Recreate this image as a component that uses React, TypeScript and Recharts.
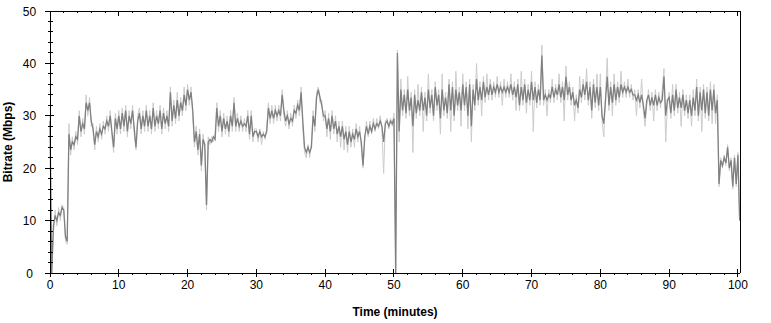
import React from 'react';
import { LineChart, Line, XAxis, YAxis } from 'recharts';

// sampled every 0.25 min; dark = main trace, light = wider envelope behind it
const STEP = 0.25;

const dark00 = [29, 0, 9, 11, 10, 11.5, 11, 12.5, 12, 7, 6, 26.5, 23.5, 25, 24.5, 26, 25.5, 30, 27, 28.5, 27.5, 32.5, 31, 32.5, 29, 27.5, 24.5, 27, 26, 27.5, 26.5, 28, 27.5, 29, 28, 30, 27, 24, 29.5, 27.5];
const dark10 = [30, 27.5, 30.5, 28, 31, 27, 30, 28.5, 31, 27.5, 24, 29, 30.5, 27.5, 30, 28, 31, 28, 30, 27.5, 31.5, 28, 30, 28.5, 31, 27.5, 30.5, 28.5, 30, 28, 34.5, 29, 32, 29.5, 33, 30, 32.5, 31, 34, 32];
const dark20 = [35, 33, 34.5, 31, 25, 27, 23.5, 26.5, 20.5, 25.5, 24.5, 13, 25, 25.5, 25, 26, 25.5, 31.5, 28, 30, 27, 29.5, 27.5, 29, 27, 30, 28, 32.5, 28, 29.5, 28, 29, 28, 28.5, 28, 30, 26.5, 30, 26, 27];
const dark30 = [27, 26, 27, 26, 26.5, 26, 27, 31.5, 29.5, 31, 29.5, 31, 30, 31, 30, 34, 31, 29, 30, 28.5, 29.5, 29, 31, 30.5, 32, 31, 34.5, 29, 24, 23, 24, 23, 24, 30, 28, 33.5, 35, 33.5, 32, 30];
const dark40 = [30, 27.5, 29.5, 27, 30, 27.5, 29, 26.5, 28, 26, 28, 25.5, 27, 24.5, 27, 25, 26.5, 25.5, 27.5, 26, 27, 25, 20.5, 26, 28, 26.5, 28, 27, 28.5, 27.5, 28.5, 28, 29, 28, 25, 28.5, 29, 28, 29, 28.5];
const dark50 = [29.5, 0, 42, 27, 35, 31, 34, 30.5, 35, 31, 33.5, 28, 34, 30.5, 33, 31, 34.5, 31, 33.5, 30, 35, 31.5, 34, 30, 35.5, 32, 34, 29.5, 35, 31, 33.5, 30.5, 36, 31, 35.5, 30, 35, 32, 34.5, 31];
const dark60 = [36, 32, 35.5, 30, 36, 28, 35, 32, 37, 33, 35.5, 33, 36.5, 33.5, 35.5, 34, 36, 34, 35.5, 34.5, 36, 34.5, 35.5, 34.5, 35.5, 34.5, 35.5, 34.5, 36, 34, 35.5, 33.5, 36, 32, 35.5, 33, 36, 32.5, 35, 33];
const dark70 = [36.5, 33, 35.5, 32.5, 35, 33, 41.5, 33, 34, 33, 34, 33.5, 35.5, 33.5, 35, 34, 36, 33.5, 35.5, 33, 37.5, 34, 35.5, 33, 34.5, 32, 33, 31.5, 35, 33.5, 36, 34, 36.5, 33, 35.5, 31, 36, 32.5, 35.5, 32];
const dark80 = [35.5, 30, 28.5, 33, 37.5, 32, 35.5, 32.5, 36, 33, 35.5, 33.5, 36, 34.5, 35.5, 34.5, 35.5, 34.5, 35, 34, 34, 33, 34, 32.5, 34, 32, 29.5, 33, 34, 32, 33.5, 32, 34, 32, 33.5, 32.5, 33, 37.5, 30, 33];
const dark90 = [33.5, 30.5, 34, 31, 35, 31.5, 33.5, 31.5, 34, 31, 33, 30.5, 33, 30, 33.5, 31, 35.5, 30, 34.5, 31, 35, 30.5, 34.5, 30, 35, 31, 35, 30.5, 33, 17, 21.5, 20.5, 22, 21, 24, 20, 21.5, 16.5, 22, 17, 22.5, 10];

const light00 = [30, 0, 7.5, 12, 9, 12.5, 10, 13, 12.5, 6, 5.5, 28.5, 22.5, 26, 23.5, 27, 24.5, 31, 26, 29.5, 26.5, 34, 30, 33.5, 28, 28.5, 23.5, 28, 25, 28.5, 25.5, 29, 26.5, 30, 27, 31, 26, 23, 30.5, 26.5];
const light10 = [31, 26.5, 31.5, 27, 32, 26, 31, 27.5, 32, 26.5, 23.5, 30, 31.5, 26.5, 31, 27, 32, 27, 31, 26.5, 32.5, 27, 31, 27.5, 32, 26.5, 31.5, 27.5, 31, 27, 35.5, 28, 33, 28.5, 34.5, 29, 33.5, 30, 35.5, 31];
const light20 = [36, 32, 35.5, 30, 24, 28, 22.5, 27.5, 19.5, 26.5, 23.5, 12, 26, 24.5, 26, 25, 26.5, 32.5, 27, 31, 26, 30.5, 26.5, 30, 26, 31, 27, 33.5, 27, 30.5, 27, 30, 27, 29.5, 27, 31, 25.5, 31, 25, 27.5];
const light30 = [27.5, 25, 27.5, 24.5, 27, 25.5, 27.5, 32.5, 28.5, 32, 28.5, 32, 29, 32, 29, 35, 30, 28, 31, 27.5, 30.5, 28, 32, 29.5, 33, 30, 35.5, 27.5, 23, 22, 24.5, 22, 25, 31, 27, 34.5, 35.5, 32.5, 33, 29];
const light40 = [31, 26, 30.5, 25.5, 31, 26.5, 30, 25, 29, 24, 29, 23.5, 28, 23, 28, 24, 27.5, 24, 28.5, 25, 28, 24, 20, 25, 29, 26, 29, 26.5, 29.5, 27, 29.5, 27.5, 30, 27.5, 19, 29, 29.5, 27.5, 29.5, 28];
const light50 = [30.5, 0, 42.5, 25, 37, 30, 35, 29.5, 37.5, 30, 34.5, 23, 35, 29.5, 36, 30, 35.5, 27, 34.5, 29, 38, 30.5, 35, 29, 36.5, 31, 35, 26.5, 38, 30, 34.5, 29.5, 37, 27, 36.5, 29, 38.5, 31, 35.5, 28];
const light60 = [38, 31, 36.5, 27.5, 37, 25, 36, 31, 40, 32, 36.5, 30, 37.5, 32.5, 38, 33, 37, 33, 36.5, 33.5, 37.5, 33.5, 36.5, 32, 37, 33.5, 36.5, 33.5, 38, 33, 36.5, 31, 37, 31, 38.5, 32, 37, 30.5, 36, 32];
const light70 = [38.5, 27, 36.5, 31.5, 36, 32, 43.5, 32, 35, 30, 35, 32.5, 37, 32.5, 36, 33, 38, 32.5, 36.5, 29, 39.5, 33, 36.5, 32, 35.5, 29, 34, 30.5, 37.5, 32.5, 37, 33, 39, 32, 36.5, 29.5, 37, 31.5, 38, 31];
const light80 = [38, 29, 26, 34, 41, 31, 36.5, 30, 38, 32, 36.5, 32.5, 38.5, 33.5, 36.5, 33.5, 37, 33.5, 36, 33, 35, 30, 35, 31.5, 37, 31, 28, 32, 35, 31, 34.5, 29, 35, 31, 34.5, 31.5, 35, 39, 25, 32];
const light90 = [34.5, 29.5, 36, 30, 36, 30.5, 34.5, 28, 35, 30, 34, 29.5, 34, 28, 35, 30, 37, 29, 35.5, 27, 36, 29.5, 35.5, 29, 36.5, 28.5, 36, 28.5, 34, 16.5, 22, 20, 22.5, 20.5, 24.5, 19.5, 22, 16, 22.5, 16.5, 23, 10];

const xTicks = [0, 2, 4, 6, 8, 10, 12, 14, 16, 18, 20, 22, 24, 26, 28, 30, 32, 34, 36, 38, 40, 42, 44, 46, 48, 50, 52, 54, 56, 58, 60, 62, 64, 66, 68, 70, 72, 74, 76, 78, 80, 82, 84, 86, 88, 90, 92, 94, 96, 98, 100];
const yTicks = [0, 2, 4, 6, 8, 10, 12, 14, 16, 18, 20, 22, 24, 26, 28, 30, 32, 34, 36, 38, 40, 42, 44, 46, 48, 50];

const darkAll = [dark00, dark10, dark20, dark30, dark40, dark50, dark60, dark70, dark80, dark90].flat();
const lightAll = [light00, light10, light20, light30, light40, light50, light60, light70, light80, light90].flat();
const data = darkAll.map((v, i) => ({ t: i * STEP, dark: v, light: lightAll[i] }));

const FONT = '"Liberation Sans", Arial, sans-serif';
const isMajor = (v: number) => v % 10 === 0;

const BottomTick = ({ x, y, payload }: any) => {
  const major = isMajor(payload.value);
  return (
    <g>
      <line x1={x} x2={x} y1={major ? y - 4 : y} y2={major ? y + 4 : y + 2} stroke="#000" shapeRendering="crispEdges" />
      {major && (
        <text x={x} y={y + 16} textAnchor="middle" fontSize={12} fontFamily={FONT} fill="#000">
          {payload.value}
        </text>
      )}
    </g>
  );
};

const TopTick = ({ x, y, payload }: any) => {
  const major = isMajor(payload.value);
  return <line x1={x} x2={x} y1={y} y2={major ? y + 5 : y + 2} stroke="#000" shapeRendering="crispEdges" />;
};

const LeftTick = ({ x, y, payload }: any) => {
  const major = isMajor(payload.value);
  return (
    <g>
      <line x1={major ? x - 5 : x - 2} x2={major ? x + 4 : x + 3} y1={y} y2={y} stroke="#000" shapeRendering="crispEdges" />
      {major && (
        <text x={x - 20.5} y={y + 4.5} textAnchor="middle" fontSize={12} fontFamily={FONT} fill="#000">
          {payload.value}
        </text>
      )}
    </g>
  );
};

const RightTick = ({ x, y, payload }: any) => {
  const major = isMajor(payload.value);
  return (
    <g>
      <line x1={major ? x - 4 : x - 2} x2={major ? x + 4 : x + 2} y1={y} y2={y} stroke="#000" shapeRendering="crispEdges" />
      {major && (
        <text x={x + 17.5} y={y + 4.5} textAnchor="middle" fontSize={12} fontFamily={FONT} fill="#000">
          {payload.value}
        </text>
      )}
    </g>
  );
};

const TimeLabel = ({ viewBox }: any) => (
  <text x={viewBox.x + viewBox.width / 2} y={viewBox.y + 43} textAnchor="middle" fontSize={12} fontWeight="bold" fontFamily={FONT} fill="#000">
    Time (minutes)
  </text>
);

const RateLabel = ({ viewBox }: any) => {
  const cy = viewBox.y + viewBox.height / 2;
  return (
    <text x={12} y={cy} transform={`rotate(-90, 12, ${cy})`} textAnchor="middle" fontSize={12} fontWeight="bold" fontFamily={FONT} fill="#000">
      Bitrate (Mbps)
    </text>
  );
};

const axisLine = { stroke: '#000', shapeRendering: 'crispEdges' } as any;

export default function App() {
  return (
    <div style={{ position: 'absolute', left: 0, top: 0, background: '#fff' }}>
      <LineChart width={771} height={323} data={data} margin={{ top: 0, right: 0, bottom: 0, left: 0 }}>
        <XAxis
          xAxisId="bottom"
          dataKey="t"
          type="number"
          domain={[0, 100.3]}
          ticks={xTicks}
          interval={0}
          height={50}
          tickSize={0}
          tickMargin={0}
          tickLine={false}
          axisLine={axisLine}
          tick={BottomTick}
          label={<TimeLabel />}
        />
        <XAxis
          xAxisId="top"
          orientation="top"
          dataKey="t"
          type="number"
          domain={[0, 100.3]}
          ticks={xTicks}
          interval={0}
          height={11}
          tickSize={0}
          tickMargin={0}
          tickLine={false}
          axisLine={axisLine}
          tick={TopTick}
        />
        <YAxis
          yAxisId="left"
          type="number"
          domain={[0, 50]}
          ticks={yTicks}
          interval={0}
          width={50}
          tickSize={0}
          tickMargin={0}
          tickLine={false}
          axisLine={axisLine}
          tick={LeftTick}
          label={<RateLabel />}
        />
        <YAxis
          yAxisId="right"
          orientation="right"
          type="number"
          domain={[0, 50]}
          ticks={yTicks}
          interval={0}
          width={31}
          tickSize={0}
          tickMargin={0}
          tickLine={false}
          axisLine={axisLine}
          tick={RightTick}
        />
        <Line xAxisId="bottom" yAxisId="left" type="linear" dataKey="light" stroke="#cccccc" strokeWidth={1} dot={false} isAnimationActive={false} />
        <Line xAxisId="bottom" yAxisId="left" type="linear" dataKey="dark" stroke="#808080" strokeWidth={1.3} dot={false} isAnimationActive={false} />
      </LineChart>
    </div>
  );
}
